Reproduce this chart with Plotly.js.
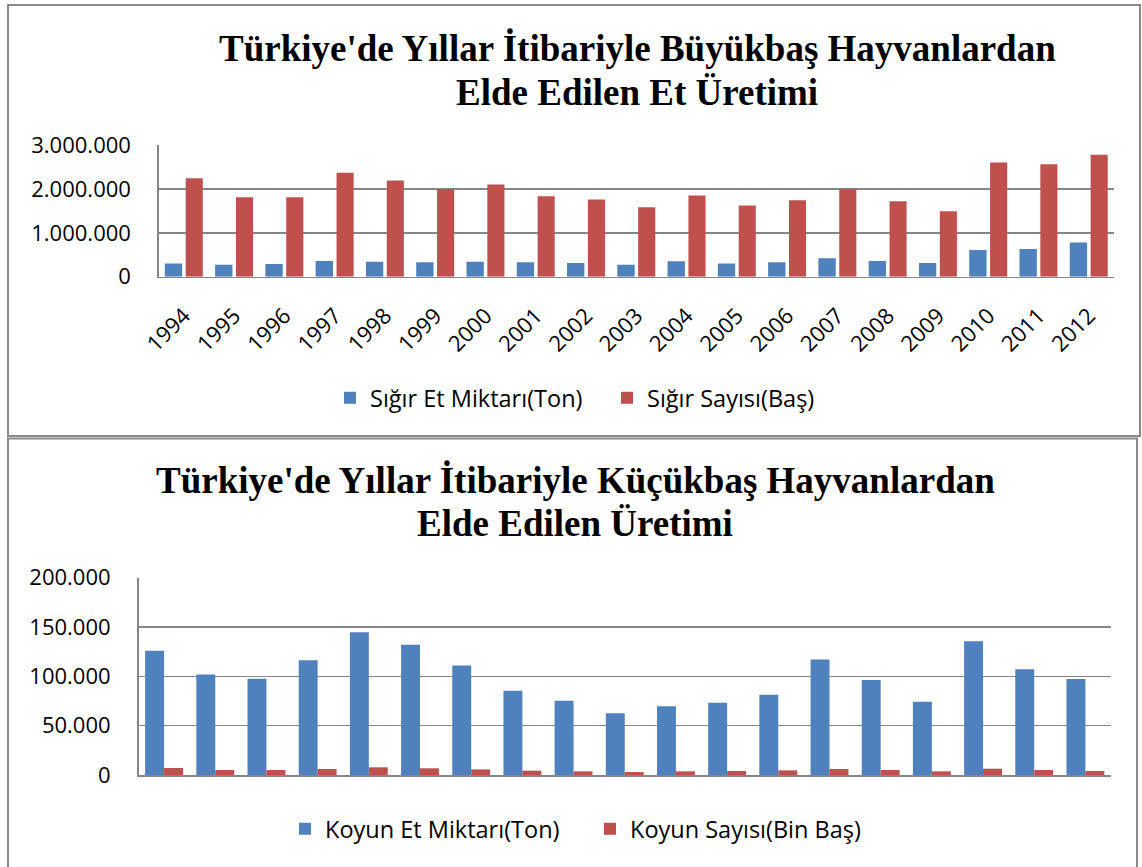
<!DOCTYPE html>
<html>
<head>
<meta charset="utf-8">
<script src="https://cdn.plot.ly/plotly-3.0.1.min.js"></script>
<style>
html,body{margin:0;padding:0;background:#fff;}
#chart{width:1142px;height:867px;}
</style>
</head>
<body>
<div id="chart"></div>
<script>
// ---- data ----
const years = ["1994","1995","1996","1997","1998","1999","2000","2001","2002","2003","2004","2005","2006","2007","2008","2009","2010","2011","2012"];
const sigirEtMiktari = [300000, 270000, 290000, 360000, 340000, 330000, 340000, 330000, 310000, 270000, 350000, 300000, 330000, 420000, 360000, 310000, 610000, 630000, 780000];
const sigirSayisi = [2240000, 1810000, 1810000, 2370000, 2190000, 2000000, 2100000, 1830000, 1760000, 1580000, 1850000, 1620000, 1740000, 1990000, 1720000, 1490000, 2600000, 2560000, 2780000];
const koyunEtMiktari = [126000, 102000, 97600, 116200, 144600, 132100, 111100, 85500, 75300, 62500, 69600, 73300, 81400, 117200, 96300, 74300, 135500, 107100, 97300];
const koyunSayisi = [7100, 5100, 5100, 6100, 7800, 6800, 5700, 4400, 3700, 3000, 3700, 4100, 4700, 6100, 5100, 3700, 6400, 5100, 4100];

const seriesNames1 = ["Sığır Et Miktarı(Ton)", "Sığır Sayısı(Baş)"];
const seriesNames2 = ["Koyun Et Miktarı(Ton)", "Koyun Sayısı(Bin Baş)"];
const title1 = ["Türkiye'de Yıllar İtibariyle Büyükbaş Hayvanlardan", "Elde Edilen Et Üretimi"];
const title2 = ["Türkiye'de Yıllar İtibariyle Küçükbaş Hayvanlardan", "Elde Edilen Üretimi"];

const BLUE = "#4F81BD", RED = "#C0504D", GRID = "#868686";
const W = 1142, H = 867;
const px = v => v / W;
const py = v => 1 - v / H;

const traces = [
  {type:"bar", x:years, y:sigirEtMiktari, name:seriesNames1[0], marker:{color:BLUE}, offset:-0.38, width:0.345, xaxis:"x", yaxis:"y", legend:"legend", hoverinfo:"none"},
  {type:"bar", x:years, y:sigirSayisi, name:seriesNames1[1], marker:{color:RED}, offset:0.035, width:0.34, xaxis:"x", yaxis:"y", legend:"legend", hoverinfo:"none"},
  {type:"bar", x:years, y:koyunEtMiktari, name:seriesNames2[0], marker:{color:BLUE}, offset:-0.37, width:0.37, xaxis:"x2", yaxis:"y2", legend:"legend2", hoverinfo:"none"},
  {type:"bar", x:years, y:koyunSayisi, name:seriesNames2[1], marker:{color:RED}, offset:0.0, width:0.37, xaxis:"x2", yaxis:"y2", legend:"legend2", hoverinfo:"none"}
];

const tickFont = {family:"Open Sans, sans-serif", size:22, color:"#000"};
const xTickFont = {family:"Open Sans, sans-serif", size:22, color:"#000"};
const legendFont = {family:"Open Sans, sans-serif", size:23.5, color:"#000"};
const titleFont = {family:"Liberation Serif, Times New Roman, serif", size:37, color:"#000"};

const layout = {
  width: W, height: H,
  margin:{l:0,r:0,t:0,b:0},
  paper_bgcolor:"#fff", plot_bgcolor:"#fff",
  separators:",.",
  barmode:"group",
  showlegend:true,
  xaxis:{domain:[px(158.8), px(1114)], anchor:"y", type:"category", showline:true, linecolor:GRID, linewidth:1.5,
         showgrid:false, ticks:"", tickangle:-45, tickfont:xTickFont, ticklabelstandoff:16, fixedrange:true},
  yaxis:{domain:[py(276.7), py(145)], anchor:"x", range:[0,3000000], dtick:1000000, tickformat:",d",
         showline:true, linecolor:GRID, linewidth:1.5, showgrid:true, gridcolor:GRID, gridwidth:1.5,
         zeroline:false, ticks:"", tickfont:tickFont, ticklabelstandoff:22},
  xaxis2:{domain:[px(138.5), px(1111)], anchor:"y2", type:"category", showline:true, linecolor:GRID, linewidth:1.5,
          showgrid:false, ticks:"", showticklabels:false},
  yaxis2:{domain:[py(775), py(577.7)], anchor:"x2", range:[0,200000], dtick:50000, tickformat:",d",
          showline:true, linecolor:GRID, linewidth:1.5, showgrid:true, gridcolor:GRID, gridwidth:1.5,
          zeroline:false, ticks:"", tickfont:tickFont, ticklabelstandoff:22},
  legend:{orientation:"h", x:px(350-20), xanchor:"left", y:py(398), yanchor:"middle", entrywidth:232, entrywidthmode:"pixels",
          font:legendFont, bgcolor:"rgba(0,0,0,0)"},
  legend2:{orientation:"h", x:px(305-20), xanchor:"left", y:py(829), yanchor:"middle", entrywidth:260, entrywidthmode:"pixels",
          font:legendFont, bgcolor:"rgba(0,0,0,0)"},
  annotations:[
    {xref:"paper", yref:"paper", x:px(637), y:py(48.5), xanchor:"center", yanchor:"middle", showarrow:false, text:"<b>"+title1[0]+"</b>", font:titleFont},
    {xref:"paper", yref:"paper", x:px(637), y:py(92.5), xanchor:"center", yanchor:"middle", showarrow:false, text:"<b>"+title1[1]+"</b>", font:titleFont},
    {xref:"paper", yref:"paper", x:px(575), y:py(480), xanchor:"center", yanchor:"middle", showarrow:false, text:"<b>"+title2[0]+"</b>", font:titleFont},
    {xref:"paper", yref:"paper", x:px(575), y:py(523.7), xanchor:"center", yanchor:"middle", showarrow:false, text:"<b>"+title2[1]+"</b>", font:titleFont}
  ],
  shapes:[
    {type:"rect", xref:"paper", yref:"paper", x0:px(8), x1:px(1140), y0:py(5), y1:py(436), line:{color:"#898989", width:2}, fillcolor:"rgba(0,0,0,0)", layer:"below"},
    {type:"rect", xref:"paper", yref:"paper", x0:px(8), x1:px(1137), y0:py(438.5), y1:py(880), line:{color:"#898989", width:2}, fillcolor:"rgba(0,0,0,0)", layer:"below"}
  ]
};

Plotly.newPlot("chart", traces, layout, {displayModeBar:false, staticPlot:true});
</script>
</body>
</html>
